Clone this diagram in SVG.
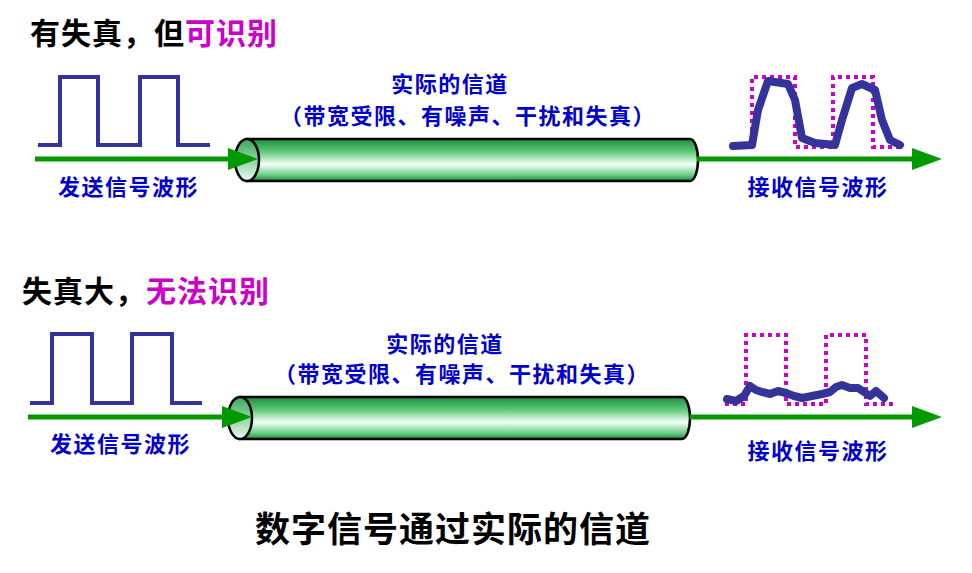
<svg xmlns="http://www.w3.org/2000/svg" width="972" height="573" viewBox="0 0 972 573">
<defs>
<linearGradient id="pg" x1="0" y1="0" x2="0" y2="1">
<stop offset="0" stop-color="#1e8c3c"/><stop offset="0.3" stop-color="#5cc978"/><stop offset="0.6" stop-color="#f4fff6"/><stop offset="0.85" stop-color="#6fd08a"/><stop offset="1" stop-color="#1e8c3c"/>
</linearGradient>
<linearGradient id="eg" x1="0" y1="0" x2="0" y2="1">
<stop offset="0" stop-color="#3aa85a"/><stop offset="1" stop-color="#e8fbee"/>
</linearGradient>
</defs>
<style>
.t{font-family:"Noto Sans CJK SC","Liberation Sans",sans-serif;font-weight:bold}
.b{fill:#0000cc;font-size:22px;letter-spacing:1.5px}
.h{font-size:30px;fill:#000;letter-spacing:1px}
.m{fill:#cc00cc}
.sq{fill:none;stroke:#333399;stroke-width:4}
.ar{stroke:#009900;stroke-width:5;fill:none}
.dot{fill:none;stroke:#cc00cc;stroke-width:4;stroke-dasharray:4 4}
.rx{fill:none;stroke:#333399;stroke-width:8;stroke-linejoin:round;stroke-linecap:round}
.pipe{fill:url(#pg);stroke:#000;stroke-width:2.5}
</style>
<g id="top">
<text class="t h" x="30" y="44">有失真，但<tspan class="m">可识别</tspan></text>
<polyline class="sq" points="38,145 60,145 60,77 98,77 98,145 140,145 140,77 178,77 178,145 210,145"/>
<g id="pipe1">
<path class="pipe" d="M247,139 L690,139 A8,21 0 0 1 690,181 L247,181 Z"/>
<ellipse cx="247" cy="160" rx="12" ry="21" fill="url(#eg)" stroke="#000" stroke-width="2.5"/>
</g>
<text class="t b" x="450" y="92" text-anchor="middle">实际的信道</text>
<text class="t b" x="468" y="124" text-anchor="middle">（带宽受限、有噪声、干扰和失真）</text>
<text class="t b" x="58" y="195">发送信号波形</text>
<text class="t b" x="818" y="195" text-anchor="middle">接收信号波形</text>
<polyline class="dot" points="752,147 752,77 795,77 795,147 833,147 833,77 873,77 873,147 903,147"/>
<polyline class="rx" points="733,146 752,145 758,110 768,81 788,84 795,100 802,138 815,143 835,145 842,120 852,88 862,84 875,90 882,120 890,140 900,145"/>
</g>
<g id="bottom">
<text class="t h" x="22" y="302">失真大，<tspan class="m">无法识别</tspan></text>
<polyline class="sq" points="30,403 52,403 52,334 92,334 92,403 132,403 132,334 172,334 172,403 202,403"/>
<g id="pipe2">
<path class="pipe" d="M240,397 L682,397 A8,21 0 0 1 682,439 L240,439 Z"/>
<ellipse cx="240" cy="418" rx="12" ry="21" fill="url(#eg)" stroke="#000" stroke-width="2.5"/>
</g>
<text class="t b" x="445" y="352" text-anchor="middle">实际的信道</text>
<text class="t b" x="462" y="382" text-anchor="middle">（带宽受限、有噪声、干扰和失真）</text>
<text class="t b" x="50" y="452">发送信号波形</text>
<text class="t b" x="818" y="459" text-anchor="middle">接收信号波形</text>
<polyline class="dot" points="725,404 746,404 746,335 786,335 786,404 826,404 826,335 866,335 866,404 897,404"/>
<polyline class="rx" points="727,399 736,401 744,396 750,386 756,390 762,392 770,394 778,391 786,393 794,396 802,398 812,396 822,394 830,392 836,387 842,385 850,388 858,388 864,392 870,396 876,391 884,398"/>
</g>
<g id="connectors">
<line class="ar" x1="35" y1="159" x2="230" y2="159"/>
<path d="M228,148 L258,159 L228,170 Z" fill="#009900"/>
<line class="ar" x1="697" y1="159" x2="915" y2="159"/>
<path d="M912,148 L942,159 L912,170 Z" fill="#009900"/>
<line class="ar" x1="28" y1="417" x2="225" y2="417"/>
<path d="M222,406 L252,417 L222,428 Z" fill="#009900"/>
<line class="ar" x1="690" y1="417" x2="915" y2="417"/>
<path d="M912,406 L942,417 L912,428 Z" fill="#009900"/>
</g>
<text class="t" x="453" y="542" text-anchor="middle" font-size="35" fill="#000" letter-spacing="1">数字信号通过实际的信道</text>
</svg>
